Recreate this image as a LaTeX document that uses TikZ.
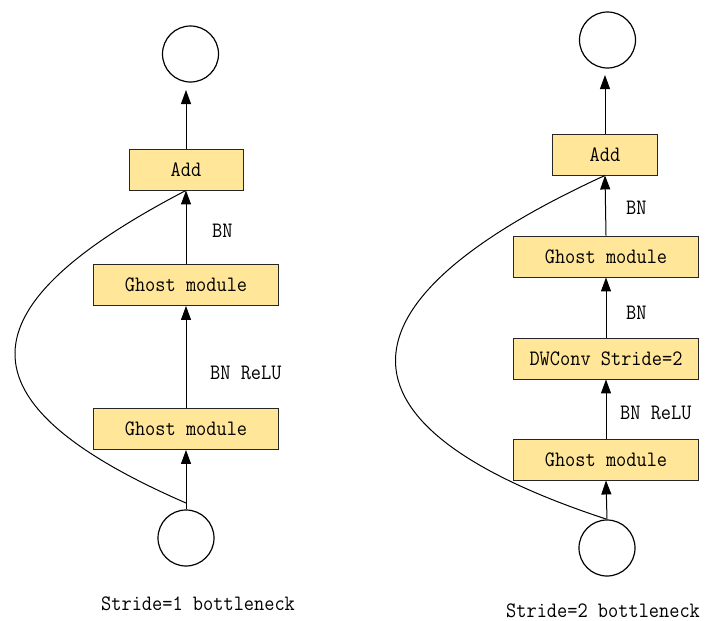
\documentclass[tikz,border=0pt]{standalone}
\usepackage{fontspec}
\setmonofont[FakeStretch=0.9]{Latin Modern Mono}
\usetikzlibrary{arrows.meta}
\definecolor{boxfill}{HTML}{FFE699}
\begin{document}
\begin{tikzpicture}[x=1pt,y=-1pt,
  font=\ttfamily\fontsize{22}{24}\selectfont,
  blk/.style={draw=black!85,line width=0.9pt,fill=boxfill,minimum height=41pt,inner sep=0pt},
  wide/.style={blk,minimum width=185pt},
  circ/.style={draw,circle,line width=1.2pt,minimum size=56pt,inner sep=0pt},
  arr/.style={line width=1pt,-{Triangle[width=10pt,length=14pt]}},
  skip/.style={line width=1pt},
  lbl/.style={anchor=west,inner sep=0pt}]
\useasboundingbox (0,0) rectangle (707,621);
% ---------- left: stride 1 ----------
\node[circ] (lout) at (190.5,54) {};
\node[blk,minimum width=114pt] (ladd) at (186,169.5) {Add};
\node[wide] (lg2) at (186,285) {Ghost module};
\node[wide] (lg1) at (186,429) {Ghost module};
\node[circ] (lin) at (186,538) {};
\coordinate (ltip) at (186,90);
\coordinate (lsplit) at (186,503);
\draw[arr] (ladd.north) -- (ltip);
\draw[arr] (lg2.north) -- (ladd.south);
\draw[arr] (lg1.north) -- (lg2.south);
\draw[arr] (lin.north) -- (lg1.south);
\draw[skip] (lsplit) .. controls (-46,402) and (-38,307) .. (ladd.south);
\node[lbl] (lbn1) at (212,231) {BN};
\node[lbl] (lbn2) at (210,373) {BN ReLU};
\node[lbl] (lcap) at (101,604) {Stride=1 bottleneck};
% ---------- right: stride 2 ----------
\node[circ] (rout) at (607.5,40) {};
\node[blk,minimum width=105pt] (radd) at (605,154.5) {Add};
\node[wide] (rg2) at (606,256.5) {Ghost module};
\node[wide] (rdw) at (606,358.5) {DWConv Stride=2};
\node[wide] (rg1) at (606,459.5) {Ghost module};
\node[circ] (rin) at (607,548) {};
\coordinate (rtip) at (605,75);
\coordinate (rsplit) at (606,519);
\draw[arr] (radd.north) -- (rtip);
\draw[arr] (rg2.north) -- (radd.south);
\draw[arr] (rdw.north) -- (rg2.south);
\draw[arr] (rg1.north) -- (rdw.south);
\draw[arr] (rin.north) -- (rg1.south);
\draw[skip] (rsplit) .. controls (320,425) and (331,301) .. (radd.south);
\node[lbl] (rbn1) at (626,208) {BN};
\node[lbl] (rbn2) at (626,313) {BN};
\node[lbl] (rbn3) at (620,413) {BN ReLU};
\node[lbl] (rcap) at (506,611) {Stride=2 bottleneck};
\end{tikzpicture}
\end{document}
